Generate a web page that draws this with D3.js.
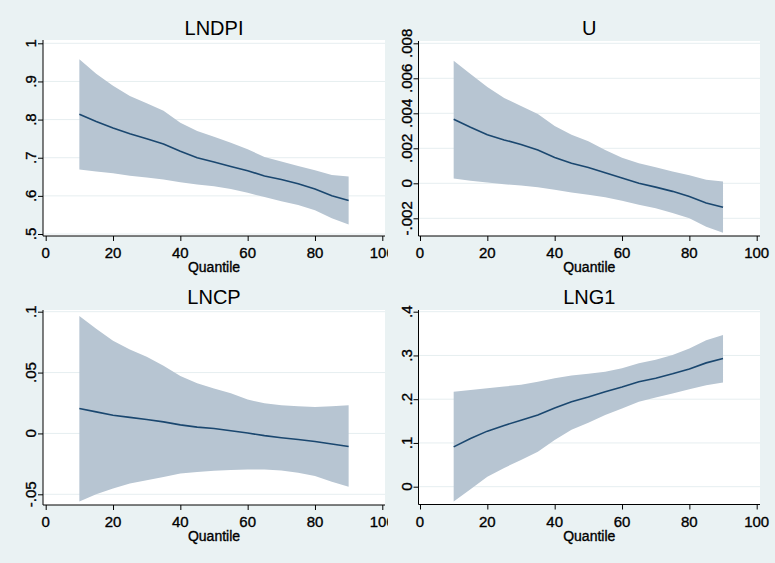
<!DOCTYPE html>
<html>
<head>
<meta charset="utf-8">
<script src="https://cdn.jsdelivr.net/npm/d3@7/dist/d3.min.js"></script>
<style>
  html, body { margin: 0; padding: 0; background: #EAF2F3; }
  svg { display: block; }
  text { font-family: "Liberation Sans", Arial, sans-serif; fill: #000; }
  text.t { stroke: #000; stroke-width: 0.35px; }
</style>
</head>
<body>
<svg id="chart" width="775" height="563"></svg>
<script>
// ---------------- data ----------------
const quantiles = [10, 15, 20, 25, 30, 35, 40, 45, 50, 55, 60, 65, 70, 75, 80, 85, 90];

const panelTitles = ["LNDPI", "U", "LNCP", "LNG1"];
const xAxisTitle = "Quantile";

const xTicks = [0, 20, 40, 60, 80, 100];
const xTickLabels = ["0", "20", "40", "60", "80", "100"];

// LNDPI
const lndpiCoef  = [0.814, 0.795, 0.778, 0.763, 0.750, 0.736, 0.717, 0.700, 0.689, 0.677, 0.666, 0.652, 0.643, 0.632, 0.618, 0.600, 0.588];
const lndpiUpper = [0.958, 0.920, 0.889, 0.862, 0.843, 0.823, 0.792, 0.770, 0.755, 0.739, 0.722, 0.702, 0.690, 0.678, 0.667, 0.655, 0.651];
const lndpiLower = [0.669, 0.664, 0.659, 0.653, 0.648, 0.643, 0.636, 0.630, 0.625, 0.618, 0.608, 0.597, 0.586, 0.576, 0.562, 0.541, 0.525];
const lndpiTicks = [0.5, 0.6, 0.7, 0.8, 0.9, 1];
const lndpiTickLabels = [".5", ".6", ".7", ".8", ".9", "1"];

// U
const uCoef  = [0.00366, 0.00320, 0.00278, 0.00248, 0.00222, 0.00190, 0.00148, 0.00114, 0.00090, 0.00060, 0.00030, 0.00000, -0.00022, -0.00046, -0.00076, -0.00112, -0.00137];
const uUpper = [0.00701, 0.00625, 0.00550, 0.00488, 0.00442, 0.00396, 0.00328, 0.00278, 0.00240, 0.00190, 0.00146, 0.00115, 0.00092, 0.00068, 0.00046, 0.00020, 0.00010];
const uLower = [0.00028, 0.00014, 0.00004, -0.00005, -0.00013, -0.00022, -0.00037, -0.00052, -0.00066, -0.00080, -0.00099, -0.00122, -0.00142, -0.00170, -0.00200, -0.00248, -0.00282];
const uTicks = [-0.002, 0, 0.002, 0.004, 0.006, 0.008];
const uTickLabels = ["-.002", "0", ".002", ".004", ".006", ".008"];

// LNCP
const lncpCoef  = [0.0205, 0.0177, 0.0150, 0.0132, 0.0115, 0.0095, 0.0070, 0.0052, 0.0040, 0.0022, 0.0003, -0.0018, -0.0035, -0.0050, -0.0066, -0.0087, -0.0108];
const lncpUpper = [0.0965, 0.0860, 0.0762, 0.0690, 0.0630, 0.0555, 0.0472, 0.0412, 0.0370, 0.0330, 0.0278, 0.0248, 0.0232, 0.0224, 0.0218, 0.0223, 0.0232];
const lncpLower = [-0.0560, -0.0500, -0.0452, -0.0412, -0.0385, -0.0358, -0.0330, -0.0316, -0.0307, -0.0300, -0.0296, -0.0296, -0.0305, -0.0322, -0.0350, -0.0397, -0.0438];
const lncpTicks = [-0.05, 0, 0.05, 0.1];
const lncpTickLabels = ["-.05", "0", ".05", ".1"];

// LNG1
const lng1Coef  = [0.091, 0.110, 0.127, 0.140, 0.152, 0.164, 0.180, 0.194, 0.205, 0.217, 0.228, 0.240, 0.248, 0.258, 0.269, 0.283, 0.293];
const lng1Upper = [0.217, 0.221, 0.225, 0.229, 0.233, 0.240, 0.248, 0.254, 0.258, 0.263, 0.271, 0.282, 0.290, 0.301, 0.316, 0.335, 0.347];
const lng1Lower = [-0.034, -0.006, 0.023, 0.043, 0.061, 0.080, 0.107, 0.130, 0.146, 0.164, 0.179, 0.194, 0.204, 0.213, 0.223, 0.232, 0.238];
const lng1Ticks = [0, 0.1, 0.2, 0.3, 0.4];
const lng1TickLabels = ["0", ".1", ".2", ".3", ".4"];

// ---------------- layout (positions / styles only) ----------------
const layout = [
  { left: 43,    right: 385, top: 40,  bottom: 236,   xr: [45.7, 382.3], yr: [234.0, 43.3], yd: [0.5, 1],        titleY: 35,  tickY: 258, qY: 271.5, ylabX: 36.2,  clipR: 388 },
  { left: 418.5, right: 760, top: 41,  bottom: 236,   xr: [420, 756.7],  yr: [218.3, 43.3], yd: [-0.002, 0.008], titleY: 35,  tickY: 258, qY: 271.5, ylabX: 411.7, clipR: 775 },
  { left: 43,    right: 385, top: 310, bottom: 505,   xr: [45.7, 382.3], yr: [494.3, 311.7], yd: [-0.05, 0.1],   titleY: 304, tickY: 527, qY: 541,   ylabX: 36.2,  clipR: 388 },
  { left: 418.5, right: 760, top: 310, bottom: 504.5, xr: [420, 756.7],  yr: [486.7, 311.7], yd: [0, 0.4],       titleY: 304, tickY: 527, qY: 541,   ylabX: 411.7, clipR: 775 }
];

const series = [
  { coef: lndpiCoef, upper: lndpiUpper, lower: lndpiLower, ticks: lndpiTicks, labels: lndpiTickLabels },
  { coef: uCoef,     upper: uUpper,     lower: uLower,     ticks: uTicks,     labels: uTickLabels },
  { coef: lncpCoef,  upper: lncpUpper,  lower: lncpLower,  ticks: lncpTicks,  labels: lncpTickLabels },
  { coef: lng1Coef,  upper: lng1Upper,  lower: lng1Lower,  ticks: lng1Ticks,  labels: lng1TickLabels }
];

const BG = "#EAF2F3", BAND = "#B7C5D2", LINE = "#1A476F", GRID = "#E6EEF0";

const svg = d3.select("#chart");
svg.append("rect").attr("width", 775).attr("height", 563).attr("fill", BG);

const defs = svg.append("defs");

series.forEach((s, i) => {
  const L = layout[i];
  defs.append("clipPath").attr("id", "clip" + i)
    .append("rect").attr("x", 0).attr("y", 0).attr("width", L.clipR).attr("height", 563);

  const g = svg.append("g").attr("clip-path", `url(#clip${i})`);

  const x = d3.scaleLinear().domain([0, 100]).range(L.xr);
  const y = d3.scaleLinear().domain(L.yd).range(L.yr);

  // plot region
  g.append("rect").attr("x", L.left).attr("y", L.top)
    .attr("width", L.right - L.left).attr("height", L.bottom - L.top)
    .attr("fill", "#fff");

  // gridlines
  g.selectAll(".grid").data(s.ticks).enter().append("line")
    .attr("x1", L.left).attr("x2", L.right)
    .attr("y1", d => y(d)).attr("y2", d => y(d))
    .attr("stroke", GRID).attr("stroke-width", 1);

  const rows = quantiles.map((q, k) => ({ q, c: s.coef[k], lo: s.lower[k], hi: s.upper[k] }));

  // CI band
  g.append("path").datum(rows)
    .attr("d", d3.area().x(d => x(d.q)).y0(d => y(d.lo)).y1(d => y(d.hi)))
    .attr("fill", BAND);

  // coefficient line
  g.append("path").datum(rows)
    .attr("d", d3.line().x(d => x(d.q)).y(d => y(d.c)))
    .attr("fill", "none").attr("stroke", LINE).attr("stroke-width", 1.6);

  // axes
  const xAxis = d3.axisBottom(x).tickValues(xTicks).tickSize(5).tickPadding(3)
    .tickFormat((d, k) => xTickLabels[k]);
  const gx = g.append("g").attr("transform", `translate(0,${L.bottom})`).call(xAxis);
  gx.select(".domain").remove();
  gx.selectAll(".tick line").attr("stroke", "#000").attr("stroke-width", 1);
  gx.selectAll(".tick text").remove();
  g.append("line").attr("x1", L.left).attr("x2", L.right)
    .attr("y1", L.bottom).attr("y2", L.bottom).attr("stroke", "#000").attr("stroke-width", 1);

  g.selectAll(".xlab").data(xTicks).enter().append("text")
    .attr("class", "t")
    .attr("x", d => x(d)).attr("y", L.tickY)
    .attr("text-anchor", "middle").attr("font-size", 15)
    .text((d, k) => xTickLabels[k]);

  const yAxis = d3.axisLeft(y).tickValues(s.ticks).tickSize(5)
    .tickFormat((d, k) => s.labels[k]);
  const gy = g.append("g").attr("transform", `translate(${L.left},0)`).call(yAxis);
  gy.select(".domain").remove();
  gy.selectAll(".tick line").attr("stroke", "#000").attr("stroke-width", 1);
  gy.selectAll(".tick text").remove();
  g.append("line").attr("x1", L.left).attr("x2", L.left)
    .attr("y1", L.top).attr("y2", L.bottom).attr("stroke", "#000").attr("stroke-width", 1);

  g.selectAll(".ylab").data(s.ticks).enter().append("text")
    .attr("class", "t")
    .attr("transform", d => `translate(${L.ylabX},${y(d)}) rotate(-90)`)
    .attr("text-anchor", "middle").attr("font-size", 15)
    .text((d, k) => s.labels[k]);

  // titles
  const cx = (L.left + L.right) / 2;
  g.append("text").attr("x", cx).attr("y", L.titleY)
    .attr("text-anchor", "middle").attr("font-size", 20).attr("fill", "#1e1e1e")
    .text(panelTitles[i]);
  g.append("text").attr("class", "t").attr("x", cx).attr("y", L.qY)
    .attr("text-anchor", "middle").attr("font-size", 14)
    .text(xAxisTitle);
});
</script>
</body>
</html>
